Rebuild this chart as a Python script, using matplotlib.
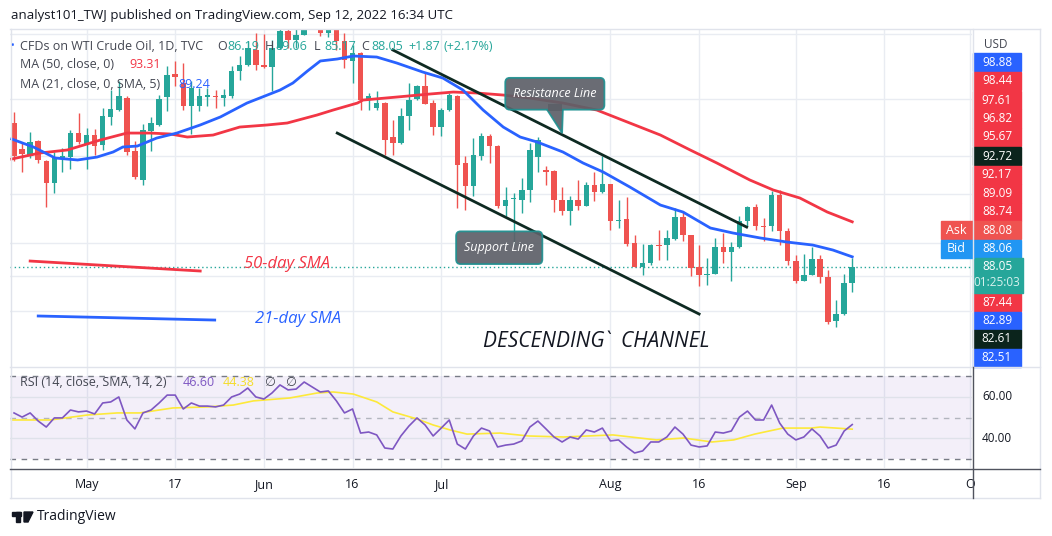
import numpy as np
import matplotlib.pyplot as plt
from matplotlib.patches import Rectangle, FancyBboxPatch, Polygon
from matplotlib.lines import Line2D

plt.rcParams['font.family'] = ['Open Sans', 'DejaVu Sans']

# WTI CFD daily candles, one per weekday from Apr 19 to Sep 12 2022
opens = [104.80, 101.77, 100.96, 102.70, 100.38, 97.82, 100.61, 100.84, 103.63, 102.36,
         103.40, 102.24, 105.50, 106.31, 107.70, 101.54, 98.17, 103.87, 104.57, 107.82,
         110.50, 109.45, 106.77, 106.77, 107.82, 107.94, 107.70, 107.94, 110.84, 111.54,
         113.29, 111.54, 111.31, 113.52, 115.50, 114.45, 115.03, 116.50, 118.00, 115.26,
         115.70, 114.33, 112.01, 112.94, 107.47, 106.54, 107.12, 103.17, 102.47, 105.61,
         107.59, 109.10, 107.12, 104.33, 106.31, 107.94, 100.15, 97.47, 100.96, 103.29,
         102.12, 95.15, 95.96, 95.84, 97.01, 100.84, 99.33, 99.22, 95.84, 94.57,
         95.84, 95.15, 97.59, 96.77, 97.70, 93.40, 93.63, 90.84, 88.05, 88.52,
         90.61, 90.61, 91.31, 93.87, 91.77, 88.05, 87.12, 87.24, 90.38, 89.80,
         90.38, 93.40, 95.03, 92.82, 92.82, 96.43, 92.24, 88.75, 86.43, 87.12,
         88.98, 86.89, 81.77, 82.59, 86.19]
highs = [106.08, 102.59, 103.75, 102.82, 100.45, 101.43, 101.89, 103.98, 105.96, 104.22,
         104.10, 106.54, 108.63, 109.68, 107.94, 102.70, 104.68, 105.50, 108.05, 111.43,
         112.01, 111.77, 109.68, 108.87, 108.87, 108.63, 108.75, 111.43, 112.59, 114.33,
         115.26, 115.15, 114.45, 117.00, 117.50, 116.50, 117.50, 120.00, 119.00, 118.00,
         116.50, 115.26, 113.87, 113.00, 108.29, 108.52, 107.20, 105.15, 106.54, 109.45,
         109.22, 110.61, 107.47, 106.54, 108.29, 108.05, 100.96, 103.05, 103.63, 103.52,
         102.20, 97.36, 96.66, 98.40, 102.47, 103.17, 99.80, 99.30, 97.36, 96.31,
         98.17, 97.94, 99.10, 100.96, 97.75, 95.84, 96.19, 91.77, 90.73, 90.73,
         92.36, 92.36, 94.91, 94.57, 91.80, 90.61, 89.10, 91.43, 92.01, 90.96,
         93.98, 95.10, 95.38, 93.75, 96.89, 97.01, 92.59, 89.45, 89.57, 90.38,
         89.45, 87.70, 84.22, 87.24, 89.06]
lows = [100.38, 99.10, 100.73, 100.15, 95.03, 96.66, 99.10, 99.45, 102.36, 99.45,
        101.08, 101.66, 104.57, 106.19, 101.08, 98.29, 97.59, 101.54, 104.45, 106.19,
        109.10, 106.31, 103.52, 106.19, 106.77, 106.54, 106.77, 107.70, 109.80, 111.43,
        110.96, 111.19, 108.52, 113.40, 113.52, 113.52, 115.00, 116.00, 114.90, 114.80,
        113.29, 111.19, 109.45, 106.31, 106.31, 106.31, 101.08, 101.08, 102.40, 103.98,
        107.50, 107.00, 103.40, 103.29, 106.19, 94.91, 94.68, 96.31, 100.50, 100.15,
        94.91, 93.98, 90.61, 94.33, 95.61, 99.10, 97.59, 94.45, 94.10, 92.94,
        94.68, 95.10, 95.73, 96.70, 92.36, 92.59, 90.50, 88.00, 87.12, 88.29,
        88.87, 88.87, 91.19, 91.08, 87.01, 85.84, 85.96, 87.20, 88.52, 86.43,
        90.30, 92.82, 92.36, 91.08, 92.24, 90.61, 88.29, 86.19, 86.40, 87.10,
        86.19, 81.43, 81.08, 82.50, 85.17]
closes = [100.96, 101.19, 102.59, 100.50, 97.82, 100.73, 100.96, 103.63, 102.59, 103.40,
          102.12, 105.61, 106.43, 107.94, 101.43, 98.52, 103.98, 104.80, 107.59, 110.38,
          110.15, 106.77, 108.87, 107.94, 108.05, 107.82, 108.05, 110.84, 111.54, 113.52,
          111.54, 111.31, 113.52, 115.50, 114.45, 115.03, 116.30, 118.50, 115.26, 117.00,
          114.33, 112.12, 112.94, 107.47, 107.94, 107.12, 102.82, 102.47, 105.61, 107.47,
          109.10, 107.01, 104.33, 106.31, 108.05, 99.91, 97.47, 101.08, 103.29, 102.12,
          95.15, 95.84, 96.08, 97.01, 101.66, 102.82, 99.10, 95.84, 94.57, 95.84,
          95.15, 97.59, 96.77, 97.70, 93.40, 93.52, 90.73, 88.05, 88.52, 90.61,
          90.50, 91.43, 93.87, 91.77, 87.94, 87.12, 87.24, 90.38, 89.80, 90.38,
          93.40, 95.03, 92.82, 92.70, 96.43, 92.24, 88.75, 86.43, 87.12, 88.98,
          86.89, 81.66, 82.59, 86.19, 88.05]

# moving averages (candle index, value)
ma21_x = [-0.3, 2.4, 5.1, 7.9, 10.3, 12.3, 13.5, 15.3, 17.7, 20.2, 23.1, 25.6, 28.9, 33.0,
          34.6, 36.4, 38.0, 40.1, 42.1, 45.0, 47.5, 50.7, 53.2, 55.7, 58.2, 60.7, 62.8,
          64.9, 68.1, 70.6, 73.1, 76.4, 80.2, 83.0, 86.4, 89.2, 92.6, 95.9, 99.1, 101.6, 104]
ma21 = [102.94, 102.01, 100.73, 100.50, 100.84, 101.43, 102.01, 102.12, 103.05, 103.63,
        104.57, 105.50, 107.12, 108.63, 109.45, 110.84, 112.01, 112.24, 112.59, 112.47,
        111.77, 110.73, 110.03, 108.63, 106.31, 104.33, 103.17, 102.59, 101.43, 100.15,
        99.10, 97.36, 95.26, 94.45, 92.59, 92.01, 91.43, 90.96, 90.61, 90.03, 89.24]
ma50_x = [-0.3, 3.2, 6.6, 10.7, 14.0, 16.9, 19.4, 21.5, 24.7, 28.0, 31.4, 33.9, 37.6, 39.6,
          42.6, 43.3, 47.5, 51.6, 54.5, 57.4, 60.7, 64.0, 68.1, 72.3, 76.4, 80.2, 83.9,
          87.2, 91.3, 94.2, 97.5, 100.9, 104]
ma50 = [100.61, 101.31, 101.66, 102.82, 103.63, 103.63, 103.52, 103.17, 103.40, 104.33,
        104.57, 104.80, 105.73, 106.31, 107.12, 107.47, 107.82, 108.17, 108.40, 108.29,
        108.05, 107.70, 107.12, 106.31, 104.80, 103.40, 101.66, 100.15, 98.17, 97.01,
        96.08, 94.45, 93.31]

# RSI(14) and its SMA(14)
rsi = [52.2, 50.2, 52.2, 48.3, 45.4, 49.8, 49.8, 53.6, 52.7, 53.1,
       51.7, 57.0, 57.5, 59.9, 48.8, 44.5, 52.2, 53.6, 57.0, 60.8,
       60.8, 54.1, 57.0, 55.5, 55.5, 55.1, 56.0, 59.9, 61.3, 64.2,
       59.9, 58.9, 61.8, 65.7, 63.3, 63.7, 67.1, 64.7, 62.3, 62.8,
       58.0, 52.2, 54.1, 42.5, 43.0, 41.6, 35.3, 34.8, 41.1, 45.9,
       49.8, 46.4, 41.1, 44.9, 48.8, 37.2, 34.8, 41.1, 44.9, 43.5,
       35.8, 36.7, 37.2, 38.7, 45.4, 48.3, 44.5, 40.6, 38.2, 40.6,
       39.6, 44.0, 43.0, 44.9, 38.7, 39.2, 35.8, 32.9, 33.9, 38.2,
       38.2, 40.6, 45.4, 42.0, 36.7, 35.8, 36.3, 43.0, 42.5, 43.5,
       50.2, 53.1, 48.8, 48.8, 56.0, 47.3, 42.0, 39.2, 40.6, 44.5,
       41.1, 35.3, 36.7, 43.5, 46.6]
rsi_ma_x = [-0.3, 4.5, 9.1, 12.8, 15.6, 19.7, 24.0, 27.2, 29.7, 34.2, 37.6, 39.6, 42.1,
            45.0, 47.0, 50.0, 52.0, 54.1, 56.2, 60.3, 63.8, 68.2, 74.3, 79.7, 83.1, 86.6,
            89.3, 91.9, 93.7, 95.4, 98.9, 100.0, 102.0, 104]
rsi_ma = [48.8, 48.8, 51.2, 52.2, 52.2, 54.6, 55.1, 56.0, 58.0, 59.4, 61.8, 62.3, 61.3,
          57.5, 52.7, 49.3, 46.4, 44.0, 42.0, 42.5, 41.1, 40.6, 41.6, 39.2, 40.1, 38.2,
          39.2, 42.0, 43.5, 44.9, 44.9, 45.4, 44.9, 44.38]

# analyst drawings: channel lines (candle index, price)
resist_x, resist_y = [47.0, 90.9], [113.29, 92.70]
support_x, support_y = [40.1, 85.0], [103.63, 82.59]

tick_pos = [9, 20, 31, 42, 53, 74, 85, 97, 108, 118.6]
tick_lab = ['May', '17', 'Jun', '16', 'Jul', 'Aug', '16', 'Sep', '16', 'O']
grid_prices = [115.15, 107.59, 100.96, 96.54, 90.84, 87.01, 82.94]

UP, DOWN = '#26a69a', '#ef5350'
W, H = 1052, 536
fig = plt.figure(figsize=(W / 100, H / 100), dpi=100)


def fline(x1, y1, x2, y2, color, lw=1.0):
    fig.add_artist(Line2D([x1 / W, x2 / W], [1 - y1 / H, 1 - y2 / H], color=color, lw=lw))


def ftext(x, y, s, **kw):
    kw.setdefault('va', 'center')
    kw.setdefault('size', 9)
    fig.text(x / W, 1 - y / H, s, **kw)


def fbox(x, y, w, h, color, **kw):
    fig.patches.append(Rectangle((x / W, 1 - (y + h) / H), w / W, h / H,
                                 transform=fig.transFigure, color=color, **kw))


ax = fig.add_axes([10 / W, 1 - 367 / H, 962 / W, 338 / H])
rx = fig.add_axes([10 / W, 1 - 468 / H, 962 / W, 101 / H])
xlim = (-0.5, 118.86)
for a in (ax, rx):
    a.set_xlim(*xlim)
    for s in a.spines.values():
        s.set_visible(False)
    for t in tick_pos:
        a.axvline(t, color='#e9ecf2', lw=1, zorder=0)
ax.set_ylim(76.43, 115.73)
ax.set_xticks([])
ax.set_yticks([])
for g in grid_prices:
    ax.axhline(g, color='#e9ecf2', lw=1, zorder=0)

# candles
idx = np.arange(len(opens))
o, h, l, c = map(np.array, (opens, highs, lows, closes))
cols = np.where(c >= o, UP, DOWN)
ax.vlines(idx, l, h, colors=cols, lw=1, zorder=3)
ax.bar(idx, np.maximum(np.abs(c - o), 0.12), bottom=np.minimum(o, c), width=0.68,
       color=cols, zorder=3)

ax.plot(ma50_x, ma50, color='#f23645', lw=2, zorder=4)
ax.plot(ma21_x, ma21, color='#2962ff', lw=2, zorder=4)
ax.axhline(closes[-1], color=UP, lw=1, ls=(0, (1, 2)), zorder=2)

ax.plot(resist_x, resist_y, color='#0e2a22', lw=2, zorder=5)
ax.plot(support_x, support_y, color='#0e2a22', lw=2, zorder=5)

# callouts
box_fc, box_ec = '#5d6068', '#1f9090'
ax.add_patch(FancyBboxPatch((61.5, 106.9), 11.2, 2.6, boxstyle='round,pad=0.55',
                            fc=box_fc, ec=box_ec, lw=1.3, alpha=0.92, zorder=6))
ax.add_patch(Polygon([(66.1, 106.4), (68.0, 103.63), (68.1, 106.4)], closed=False,
                     fc=box_fc, ec=box_ec, lw=1.3, alpha=0.92, zorder=6))
ax.add_patch(Rectangle((66.2, 106.2), 1.8, 0.8, fc=box_fc, ec='none', alpha=1, zorder=6))
ax.text(67.1, 108.2, 'Resistance Line', color='white', style='italic', size=9,
        ha='center', va='center', zorder=7)
ax.add_patch(FancyBboxPatch((55.4, 88.95), 9.6, 2.7, boxstyle='round,pad=0.55',
                            fc=box_fc, ec=box_ec, lw=1.3, alpha=0.92, zorder=6))
ax.text(60.2, 90.3, 'Support Line', color='white', style='italic', size=9,
        ha='center', va='center', zorder=7)

# hand drawn legend
ax.plot([2.0, 23.1], [88.75, 87.59], color='#f23645', lw=2, zorder=4)
ax.plot([3.0, 24.9], [82.36, 81.89], color='#2962ff', lw=2, zorder=4)
ax.text(33.9, 88.4, '50-day SMA', color='#f23645', style='italic', size=12,
        ha='center', va='center')
ax.text(35.2, 82.0, '21-day SMA', color='#2962ff', style='italic', size=12,
        ha='center', va='center')
ax.text(72.2, 79.4, 'DESCENDING`  CHANNEL', color='#131722', style='italic', size=15,
        ha='center', va='center')

# RSI pane
rx.set_ylim(25.66, 74.34)
rx.set_yticks([])
rx.axhspan(30, 70, color='#7e57c2', alpha=0.09, lw=0, zorder=0)
for lvl in (60, 40):
    rx.axhline(lvl, color='#dfe2ea', lw=1, zorder=0)
rx.axhline(70, color='#787b86', lw=1, ls=(0, (4, 4)))
rx.axhline(30, color='#787b86', lw=1, ls=(0, (4, 4)))
rx.axhline(50, color='#b2b5be', lw=1, ls=(0, (4, 4)))
rx.plot(rsi_ma_x, rsi_ma, color='#fde93a', lw=1.2)
rx.plot(idx, rsi, color='#7e57c2', lw=1.2)
rx.set_xticks(tick_pos, tick_lab)
rx.tick_params(axis='x', length=0, pad=7, labelsize=9, labelcolor='#131722')

# frame and separators
fline(10, 28.5, 1040, 28.5, '#e0e3eb')
fline(10.5, 28.5, 10.5, 497.5, '#e0e3eb')
fline(1040, 28.5, 1040, 497.5, '#e0e3eb')
fline(10, 497.5, 1040, 497.5, '#e0e3eb')
fline(10, 367, 1040, 367, '#e0e3eb')
fline(972.5, 28.5, 972.5, 367, '#e0e3eb')
fline(972.5, 367, 972.5, 497.5, '#50535e')
fline(10, 468.5, 1040, 468.5, '#50535e')

# header and legends
ftext(11, 15, 'analyst101_TWJ published on TradingView.com, Sep 12, 2022 16:34 UTC',
      color='#131722', size=9.5)
ftext(10, 47, '•', color='#2962ff', size=7)
grey = '#434651'
ftext(20, 46, 'CFDs on WTI Crude Oil, 1D, TVC', color=grey)
for x, lab, val in [(217, 'O', '86.19'), (265, 'H', '89.06'), (314, 'L', '85.17'),
                    (361, 'C', '88.05')]:
    ftext(x, 46, lab, color=grey)
    ftext(x + 10, 46, val, color=UP)
ftext(408, 46, '+1.87', color=UP)
ftext(443, 46, '(+2.17%)', color=UP)
ftext(20, 65, 'MA (50, close, 0)', color=grey)
ftext(129, 65, '93.31', color='#f23645')
ftext(20, 84, 'MA (21, close, 0, SMA, 5)', color=grey)
ftext(178, 84, '89.24', color='#2962ff')
ftext(20, 383, 'RSI (14, close, SMA, 14, 2)', color=grey)
ftext(183, 383, '46.60', color='#7e57c2')
ftext(223, 383, '44.38', color='#f5dd2a')
ftext(264, 383, '∅', color=grey)
ftext(285, 383, '∅', color=grey)

# price scale labels
ftext(996, 44, 'USD', color=grey, ha='center', size=8.5)
labels = [(62, '98.88', '#2962ff'), (81, '98.44', '#f23645'), (100, '97.61', '#f23645'),
          (118.5, '96.82', '#f23645'), (137, '95.67', '#f23645'), (156.5, '92.72', '#0b241c'),
          (175, '92.17', '#f23645'), (193.5, '89.09', '#f23645'), (212, '88.74', '#f23645'),
          (230.5, '88.08', '#ef5350'), (249, '88.06', '#2196f3'), (302, '87.44', '#f23645'),
          (320.5, '82.89', '#2962ff'), (339, '82.61', '#0b241c'), (357.5, '82.51', '#2962ff')]
for yc, txt, col in labels:
    fbox(973, yc - 9, 48, 18, col)
    ftext(997, yc, txt, color='white', ha='center', size=8.5)
fbox(973, 258, 50, 35, UP)
ftext(997, 267, '88.05', color='white', ha='center', size=8.5)
ftext(997, 283, '01:25:03', color='#d8f2ee', ha='center', size=8.5)
fbox(941, 221.5, 33, 18, '#ef5350')
ftext(956, 230.5, 'Ask', color='white', ha='center', size=9)
fbox(941, 240, 33, 18, '#2196f3')
ftext(956, 249, 'Bid', color='white', ha='center', size=9)
ftext(997, 397, '60.00', color='#131722', ha='center', size=8.5)
ftext(997, 438, '40.00', color='#131722', ha='center', size=8.5)

# TradingView logo and name
fbox(12, 512, 9, 3.5, '#131722')
fbox(16, 512, 4, 10, '#131722')
fig.patches.append(Polygon([(24 / W, 1 - 512 / H), (33 / W, 1 - 512 / H),
                            (28 / W, 1 - 522 / H), (24 / W, 1 - 522 / H)],
                           transform=fig.transFigure, color='#131722'))
ftext(37, 517, 'TradingView', color='#131722', size=10)

fig.savefig('out.png', dpi=100)
